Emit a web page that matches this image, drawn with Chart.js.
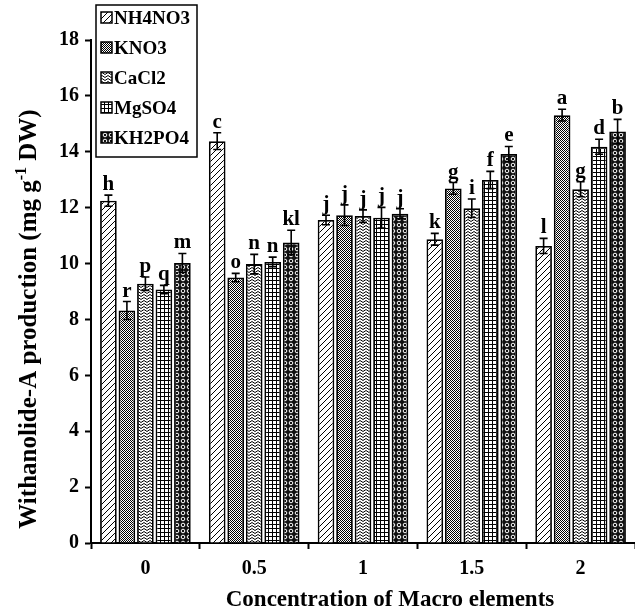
<!DOCTYPE html>
<html>
<head>
<meta charset="utf-8">
<script src="https://cdn.jsdelivr.net/npm/chart.js@4.4.1/dist/chart.umd.min.js"></script>
<style>
html,body{margin:0;padding:0;background:#fff;}
#c{display:block;}
</style>
</head>
<body>
<canvas id="c" width="635" height="613"></canvas>
<script>
const categories = ['0', '0.5', '1', '1.5', '2'];
const seriesNames = ['NH4NO3', 'KNO3', 'CaCl2', 'MgSO4', 'KH2PO4'];
const NH4NO3 = [12.25, 14.38, 11.56, 10.87, 10.63];
const KNO3   = [8.32, 9.50, 11.73, 12.69, 15.31];
const CaCl2  = [9.28, 9.98, 11.70, 11.98, 12.66];
const MgSO4  = [9.07, 10.06, 11.64, 12.99, 14.18];
const KH2PO4 = [10.02, 10.75, 11.78, 13.92, 14.73];
const errNH4NO3 = [0.20, 0.30, 0.17, 0.21, 0.27];
const errKNO3   = [0.32, 0.15, 0.37, 0.21, 0.21];
const errCaCl2  = [0.24, 0.35, 0.22, 0.33, 0.27];
const errMgSO4  = [0.15, 0.17, 0.37, 0.31, 0.27];
const errKH2PO4 = [0.34, 0.44, 0.18, 0.27, 0.43];
const letNH4NO3 = ['h', 'c', 'j', 'k', 'l'];
const letKNO3   = ['r', 'o', 'j', 'g', 'a'];
const letCaCl2  = ['p', 'n', 'j', 'i', 'g'];
const letMgSO4  = ['q', 'n', 'j', 'f', 'd'];
const letKH2PO4 = ['m', 'kl', 'j', 'e', 'b'];
const yTicks = [0, 2, 4, 6, 8, 10, 12, 14, 16, 18];
const xTitle = 'Concentration of Macro elements';
const yTitleParts = ['Withanolide-A production (mg g', '-1', ' DW)'];

const SERIF = '"Liberation Serif", "Times New Roman", serif';

function makePattern(type) {
  const c = document.createElement('canvas');
  const x = c.getContext('2d');
  let s = 6;
  if (type === 'diag') {
    s = 6; c.width = c.height = s;
    x.fillStyle = '#fff'; x.fillRect(0, 0, s, s);
    x.strokeStyle = '#000'; x.lineWidth = 1;
    x.beginPath();
    x.moveTo(0, s); x.lineTo(s, 0);
    x.moveTo(-1, 1); x.lineTo(1, -1);
    x.moveTo(s - 1, s + 1); x.lineTo(s + 1, s - 1);
    x.stroke();
  } else if (type === 'dense') {
    s = 2; c.width = c.height = s;
    x.fillStyle = '#fff'; x.fillRect(0, 0, s, s);
    x.fillStyle = '#000'; x.fillRect(0, 0, 1, 1); x.fillRect(1, 1, 1, 1);
  } else if (type === 'zigzag') {
    s = 6; c.width = c.height = s;
    x.fillStyle = '#fff'; x.fillRect(0, 0, s, s);
    x.strokeStyle = '#000'; x.lineWidth = 1;
    x.beginPath();
    for (const y0 of [0, 3]) {
      x.moveTo(0, y0 + 0.5); x.lineTo(3, y0 + 2.5); x.lineTo(6, y0 + 0.5);
    }
    x.stroke();
  } else if (type === 'grid') {
    s = 4; c.width = c.height = s;
    x.fillStyle = '#fff'; x.fillRect(0, 0, s, s);
    x.fillStyle = '#000'; x.fillRect(0, 0, s, 1); x.fillRect(0, 0, 1, s);
  } else if (type === 'circles') {
    s = 6; c.width = c.height = s;
    x.fillStyle = '#111'; x.fillRect(0, 0, s, s);
    x.strokeStyle = '#fff'; x.lineWidth = 1;
    x.beginPath(); x.arc(3, 3, 1.8, 0, Math.PI * 2); x.stroke();
  }
  return x.createPattern(c, 'repeat');
}

const ctx = document.getElementById('c').getContext('2d');
const patterns = [makePattern('diag'), makePattern('dense'), makePattern('zigzag'), makePattern('grid'), makePattern('circles')];
const values = [NH4NO3, KNO3, CaCl2, MgSO4, KH2PO4];
const errors = [errNH4NO3, errKNO3, errCaCl2, errMgSO4, errKH2PO4];
const letters = [letNH4NO3, letKNO3, letCaCl2, letMgSO4, letKH2PO4];

const datasets = seriesNames.map((n, i) => ({
  label: n,
  data: values[i],
  backgroundColor: patterns[i],
  borderColor: '#000',
  borderWidth: 1.8,
  categoryPercentage: 0.85,
  barPercentage: 0.9
}));

const errorPlugin = {
  id: 'errorBars',
  afterDatasetsDraw(chart) {
    const c = chart.ctx;
    const ys = chart.scales.y;
    c.save();
    c.strokeStyle = '#000';
    c.lineWidth = 1.6;
    c.fillStyle = '#000';
    c.font = 'bold 21px ' + SERIF;
    c.textAlign = 'center';
    c.textBaseline = 'alphabetic';
    chart.data.datasets.forEach((ds, i) => {
      const meta = chart.getDatasetMeta(i);
      meta.data.forEach((bar, j) => {
        const v = ds.data[j], e = errors[i][j];
        const yT = ys.getPixelForValue(v + e);
        const yB = ys.getPixelForValue(v - e);
        const xx = bar.x;
        c.beginPath();
        c.moveTo(xx, yT); c.lineTo(xx, yB);
        c.moveTo(xx - 4, yT); c.lineTo(xx + 4, yT);
        c.moveTo(xx - 4, yB); c.lineTo(xx + 4, yB);
        c.stroke();
        c.fillText(letters[i][j], xx, yT - 5);
      });
    });
    c.restore();
  }
};

const legendPlugin = {
  id: 'boxLegend',
  afterDraw(chart) {
    const c = chart.ctx;
    c.save();
    const bx = 96, by = 5, bw = 101, bh = 152;
    c.fillStyle = '#fff';
    c.fillRect(bx, by, bw, bh);
    c.strokeStyle = '#000';
    c.lineWidth = 1.5;
    c.strokeRect(bx, by, bw, bh);
    c.font = 'bold 19px ' + SERIF;
    c.textAlign = 'left';
    c.textBaseline = 'middle';
    chart.data.datasets.forEach((ds, i) => {
      const cy = 18 + i * 30;
      c.fillStyle = ds.backgroundColor;
      c.fillRect(101, cy - 6, 11, 11);
      c.lineWidth = 1.5;
      c.strokeStyle = '#000';
      c.strokeRect(101, cy - 6, 11, 11);
      c.fillStyle = '#000';
      c.fillText(ds.label, 114, cy + 1);
    });
    c.restore();
  }
};

const titlesPlugin = {
  id: 'axisTitles',
  afterDraw(chart) {
    const c = chart.ctx;
    c.save();
    c.fillStyle = '#000';
    c.font = 'bold 23px ' + SERIF;
    c.textAlign = 'center';
    c.textBaseline = 'middle';
    c.fillText(xTitle, 390, 600);
    c.translate(30, 319);
    c.rotate(-Math.PI / 2);
    const main = 'bold 25px ' + SERIF;
    const sup = 'bold 16px ' + SERIF;
    const [p1, p2, p3] = yTitleParts;
    c.font = main; const w1 = c.measureText(p1).width, w3 = c.measureText(p3).width;
    c.font = sup; const w2 = c.measureText(p2).width;
    const x0 = -(w1 + w2 + w3) / 2;
    c.textAlign = 'left';
    c.font = main; c.fillText(p1, x0, 0);
    c.font = sup; c.fillText(p2, x0 + w1, -8);
    c.font = main; c.fillText(p3, x0 + w1 + w2, 0);
    c.restore();
  }
};

new Chart(ctx, {
  type: 'bar',
  data: { labels: categories, datasets },
  plugins: [errorPlugin, legendPlugin, titlesPlugin],
  options: {
    responsive: false,
    animation: false,
    devicePixelRatio: 1,
    layout: { padding: { top: 40, right: 0, left: 0, bottom: 0 } },
    plugins: { legend: { display: false }, tooltip: { enabled: false } },
    scales: {
      x: {
        type: 'category',
        grid: { display: true, offset: true, drawOnChartArea: false, color: '#000', tickLength: 6, tickWidth: 2 },
        border: { display: true, color: '#000', width: 2 },
        ticks: { color: '#000', font: { family: SERIF, size: 20, weight: 'bold' }, padding: 8, maxRotation: 0 },
        afterFit(s) { s.height = 70; }
      },
      y: {
        min: 0, max: 18,
        afterBuildTicks(s) { s.ticks = yTicks.map(v => ({ value: v })); },
        grid: { display: true, drawOnChartArea: false, color: '#000', tickLength: 6, tickWidth: 2 },
        border: { display: true, color: '#000', width: 2 },
        ticks: { color: '#000', font: { family: SERIF, size: 20, weight: 'bold' }, padding: 6 },
        afterFit(s) { s.width = 91; }
      }
    }
  }
});
</script>
</body>
</html>
